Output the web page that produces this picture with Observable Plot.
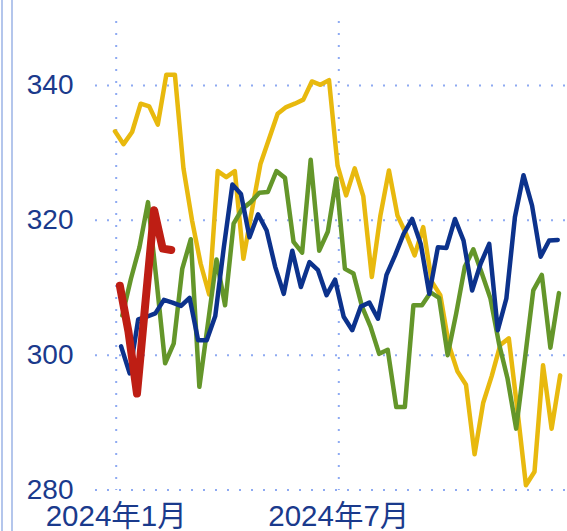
<!DOCTYPE html>
<html><head><meta charset="utf-8">
<script src="https://cdn.jsdelivr.net/npm/d3@7"></script>
<script src="https://cdn.jsdelivr.net/npm/@observablehq/plot@0.6"></script>
<style>
body{margin:0;background:#fff;}
#wrap{position:relative;width:567px;height:531px;overflow:hidden;background:#fff;}
.edge{position:absolute;top:0;bottom:0;width:2px;background:#b4c6ec;z-index:2;}
</style></head><body>
<div id="wrap"></div>
<script>
// weekly series (start date + values), drawn against a 2024 calendar axis
const yellowStart = "2023-12-31";
const yellowValues = [333.2,331.3,333.1,337.3,336.9,334.2,341.6,341.6,327.7,320.0,313.6,309.0,327.3,326.4,327.3,314.3,321.5,328.4,332.1,335.8,336.8,337.3,337.9,340.6,340.1,340.8,328.1,323.7,327.7,323.6,311.6,320.7,327.4,320.7,318.0,314.8,319.0,310.9,308.9,301.5,297.6,295.6,285.3,292.9,296.9,301.5,302.5,291.9,280.7,282.7,298.5,289.1,297.0];
const greenStart = "2024-01-06";
const greenValues = [305.9,311.3,316.0,322.7,311.0,298.8,301.7,312.8,317.2,295.3,304.7,314.2,307.4,319.5,321.7,322.7,324.1,324.2,327.3,326.3,316.8,315.2,329.0,315.5,318.3,326.2,312.8,312.1,307.2,304.2,300.2,300.8,292.3,292.3,307.4,307.4,309.3,308.5,300.0,306.2,313.1,315.7,312.1,308.4,301.7,296.5,289.1,299.2,309.6,311.9,301.1,309.2];
const blueStart = "2024-01-05";
const blueValues = [301.3,297.3,305.3,305.7,306.2,308.2,307.8,307.3,308.5,302.2,302.2,305.8,316.0,325.3,323.9,317.5,320.9,318.5,313.1,309.1,315.5,310.1,313.8,312.6,308.9,311.2,305.7,303.7,307.2,307.8,305.4,311.9,314.8,318.0,320.2,316.5,309.1,316.0,315.9,320.2,317.0,309.6,313.6,316.5,303.7,308.4,320.5,326.7,322.2,314.6,317.0,317.1];
const redStart = "2024-01-04";
const redValues = [310.3,303.5,294.3,308.0,321.5,315.8,315.6];

const seriesNames = ["yellow","green","blue","red"];
const seriesColors = ["#e8b90e","#64962a","#0c328c","#be1e14"];
const seriesWidths = [4.5,4.5,4.5,8];

const xTicks = ["2024-01-01","2024-07-01"];
const xTickLabels = ["2024年1月","2024年7月"];
const yTicks = [280,300,320,340];

const starts = [yellowStart, greenStart, blueStart, redStart];
const values = [yellowValues, greenValues, blueValues, redValues];
const rows = [];
seriesNames.forEach((name, k) => {
  const s = new Date(starts[k] + "T00:00:00Z");
  values[k].forEach((v, i) => rows.push({series: name, date: d3.utcDay.offset(s, 7 * i), value: v}));
});
const xTickDates = xTicks.map(d => new Date(d + "T00:00:00Z"));

const lineMarks = seriesNames.map((name, k) =>
  Plot.line(rows.filter(r => r.series === name), {
    x: "date", y: "value", stroke: seriesColors[k], strokeWidth: seriesWidths[k],
    strokeLinejoin: "round", strokeLinecap: "round"
  })
);

const chart = Plot.plot({
  width: 567,
  height: 531,
  marginLeft: 95,
  marginRight: 0,
  marginTop: 21,
  marginBottom: 41,
  style: {fontFamily: "'Liberation Sans', Arial, 'Noto Sans CJK SC', sans-serif", fontSize: "28px", color: "#1a3a8c", background: "transparent", overflow: "visible"},
  x: {type: "utc", domain: [xTickDates[0], xTickDates[1]], range: [115.7, 338.3],
      ticks: xTickDates, tickFormat: (d) => xTickLabels[xTickDates.findIndex(t => +t === +d)],
      tickSize: 0, tickPadding: 15, label: null, line: false},
  y: {domain: [280, 340], range: [489.5, 85], ticks: yTicks, tickSize: 0, tickPadding: 22, label: null, line: false},
  marks: [
    Plot.ruleY(yTicks, {stroke: "#8eaaf2", strokeWidth: 2, strokeDasharray: "2,10"}),
    Plot.ruleX(xTickDates, {stroke: "#8eaaf2", strokeWidth: 2, strokeDasharray: "2,10"}),
    ...lineMarks
  ]
});
// slightly larger month labels on the x axis
chart.querySelectorAll('g[aria-label^="x-axis"] text').forEach(t => t.setAttribute("font-size", "29.5"));
chart.querySelectorAll('g[aria-label^="x-axis"]').forEach(g => g.setAttribute("font-size", "29.5"));
const wrap = document.getElementById("wrap");
wrap.appendChild(chart);
for (const left of [1, 11]) {
  const e = document.createElement("div");
  e.className = "edge";
  e.style.left = left + "px";
  wrap.appendChild(e);
}
</script>
</body></html>
